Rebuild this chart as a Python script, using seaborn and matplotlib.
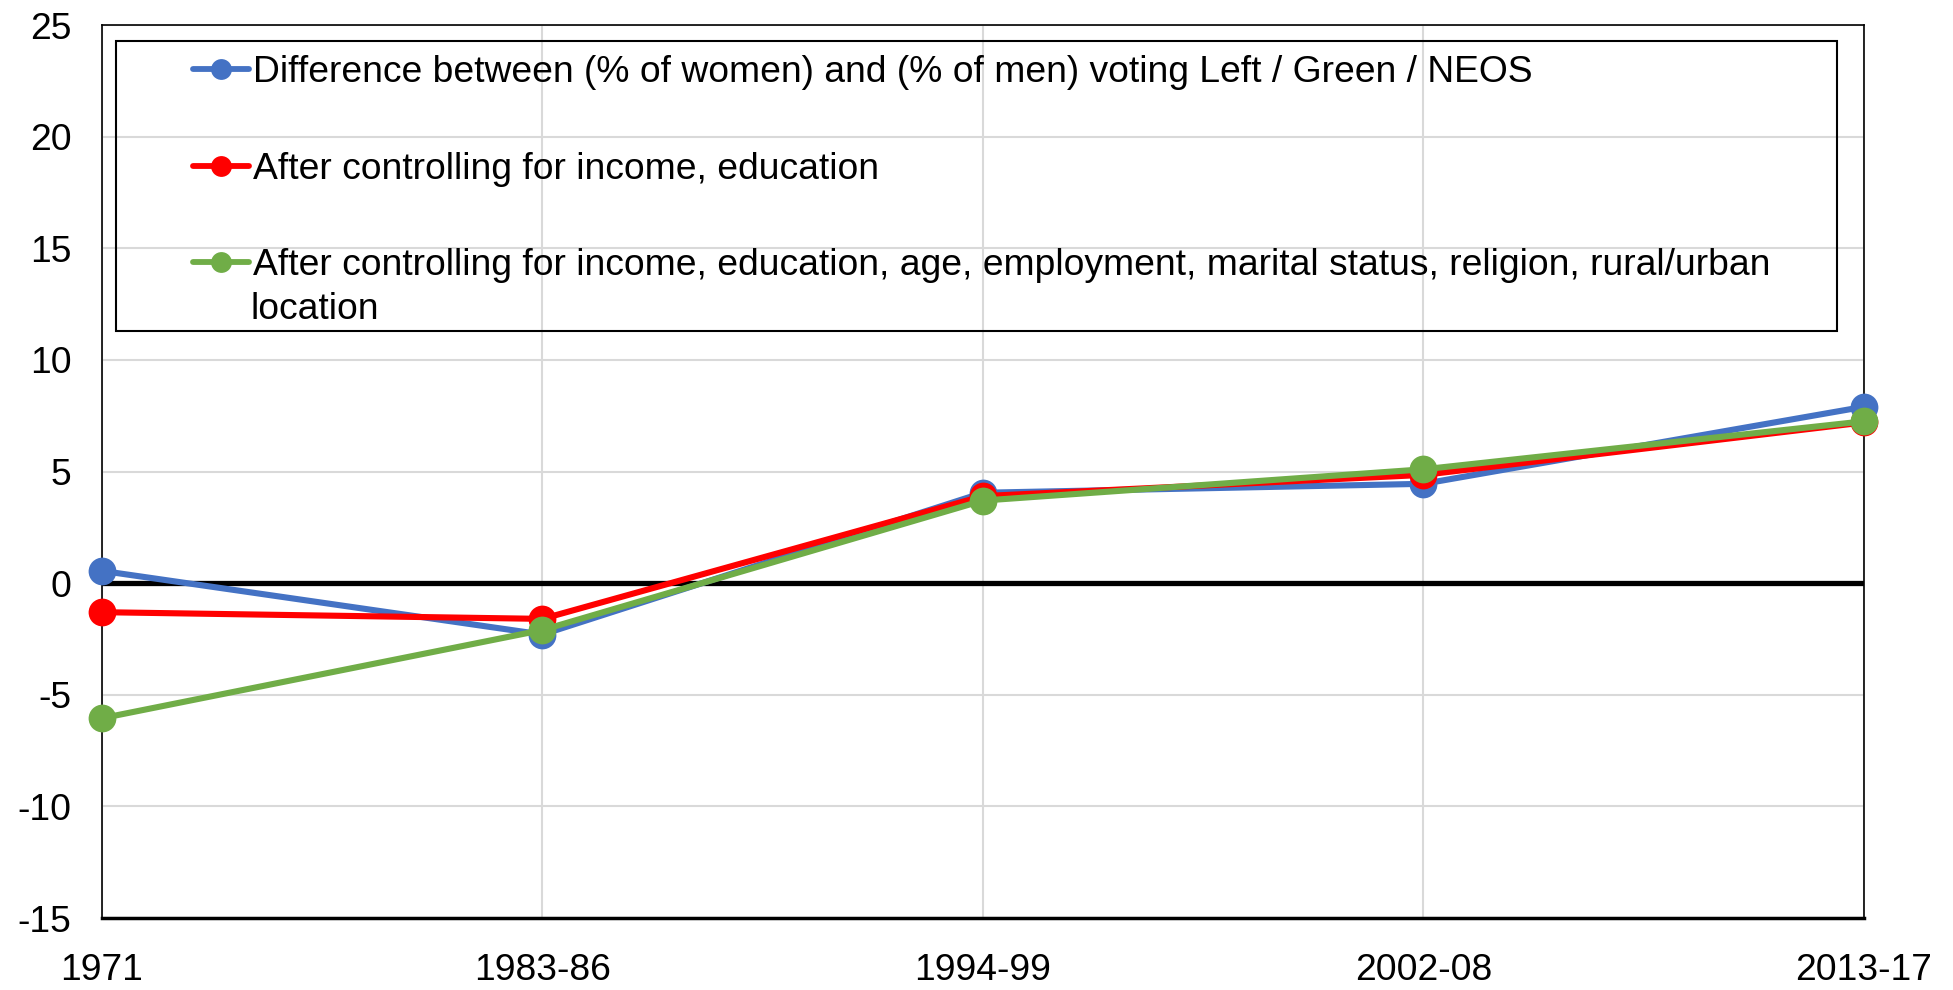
import pandas as pd
import matplotlib.pyplot as plt
import matplotlib.patches as mpatches
import seaborn as sns

periods = ['1971', '1983-86', '1994-99', '2002-08', '2013-17']
raw_gap = [0.55, -2.3, 4.05, 4.45, 7.9]
ctrl_inc_edu = [-1.3, -1.6, 3.9, 4.85, 7.2]
ctrl_all = [-6.05, -2.1, 3.7, 5.1, 7.25]

labels = ['Difference between (% of women) and (% of men) voting Left / Green / NEOS',
          'After controlling for income, education',
          'After controlling for income, education, age, employment, marital status, religion, rural/urban']
label_wrap = 'location'
colors = ['#4472C4', '#FF0000', '#70AD47']

rows = []
for lab, vals in zip(labels, [raw_gap, ctrl_inc_edu, ctrl_all]):
    for i, v in enumerate(vals):
        rows.append({'pos': i, 'value': v, 'series': lab})
df = pd.DataFrame(rows)

sns.set_style('white')
plt.rcParams['font.family'] = ['Liberation Sans', 'DejaVu Sans']
plt.rcParams['axes.unicode_minus'] = False
plt.rcParams['text.color'] = 'black'
plt.rcParams['xtick.color'] = 'black'
plt.rcParams['ytick.color'] = 'black'

fs = 26.8

fig = plt.figure(figsize=(19.53, 9.9), dpi=100)
ax = fig.add_axes([0.0522, 0.0727, 0.9022, 0.902])

# grid + zero line
for y in range(-15, 26, 5):
    ax.axhline(y, color='#d9d9d9', lw=1.5, zorder=0)
for x in range(len(periods)):
    ax.axvline(x, color='#d9d9d9', lw=1.5, zorder=0)
ax.axhline(0, color='black', lw=3.8, zorder=1.5)

sns.lineplot(data=df, x='pos', y='value', hue='series', hue_order=labels,
             palette=colors, marker='o', markersize=20, markeredgewidth=0,
             linewidth=4.4, legend=False, ax=ax, zorder=3)
for ln in ax.lines[-3:]:
    ln.set_clip_on(False)

ax.set_xlim(0, 4)
ax.set_ylim(-15, 25)
ax.set_xticks(range(len(periods)))
ax.set_xticklabels(periods)
ax.set_yticks(range(-15, 26, 5))
ax.set_xlabel('')
ax.set_ylabel('')
ax.tick_params(axis='x', labelsize=fs, labelcolor='black', pad=25, length=0)
ax.tick_params(axis='y', labelsize=fs, labelcolor='black', pad=22, length=0)
for s in ax.spines.values():
    s.set_color('black')
    s.set_linewidth(1.2)
ax.spines['bottom'].set_linewidth(2.5)

# legend box
ax.add_patch(mpatches.Rectangle((0.0078, 0.657), 0.9767, 0.325, transform=ax.transAxes,
                                fill=False, edgecolor='black', lw=1.5, zorder=5))
handles = ax.lines[-3:]
leg = ax.legend(handles, labels, loc='upper left', bbox_to_anchor=(0.0516, 0.966),
                frameon=False, fontsize=fs, handlelength=1.5, handletextpad=0.12,
                labelspacing=1.65, borderpad=0, borderaxespad=0, markerscale=0.75)
for h in leg.legend_handles:
    h.set_linewidth(4.2)
ax.text(0.0841, 0.681, label_wrap, transform=ax.transAxes, fontsize=fs,
        va='center', ha='left', color='black')

plt.savefig('out.png', dpi=100)
